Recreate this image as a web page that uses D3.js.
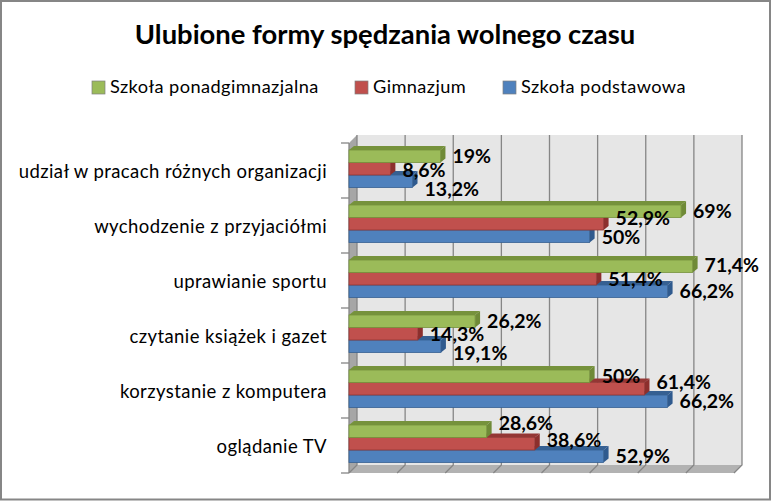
<!DOCTYPE html>
<html>
<head>
<meta charset="utf-8">
<script src="https://cdn.jsdelivr.net/npm/d3@7"></script>
<style>
  html, body { margin: 0; background: #fff; }
  svg { display: block; }
  text { font-family: Lato, "Open Sans", sans-serif; fill: #000; }
</style>
</head>
<body>
<svg id="chart" width="771" height="501"></svg>
<script>
"use strict";

// ==========================
// data
// ==========================
var categories = [
  "udział w pracach różnych organizacji",
  "wychodzenie z przyjaciółmi",
  "uprawianie sportu",
  "czytanie książek i gazet",
  "korzystanie z komputera",
  "oglądanie TV"
];
var seriesNames = ["Szkoła ponadgimnazjalna", "Gimnazjum", "Szkoła podstawowa"];
var ponadgimnazjalna = [19, 69, 71.4, 26.2, 50, 28.6];
var gimnazjum = [8.6, 52.9, 51.4, 14.3, 61.4, 38.6];
var podstawowa = [13.2, 50, 66.2, 19.1, 66.2, 52.9];
var xTicks = [0, 10, 20, 30, 40, 50, 60, 70, 80];

// ==========================
// layout and styles
// ==========================
var frontColors = ["#9bbb59", "#c0504d", "#4f81bd"],
    topColors = ["#76923c", "#943634", "#366092"],
    sideColors = ["#6f8a37", "#8c2f2d", "#2f5a8e"];

var depth = 8, barDepth = 5;

// the labels do not sit on the bars, each one was moved by hand in the original
var labelNudge = [
  [0, 1, 8], [0, -6, 1], [-1, 0, 0],
  [0, 0, 7], [0, -7, 0], [-8, -4, 0]
];

var svg = d3.select("#chart");

var x = d3.scaleLinear().domain([0, 80]).range([349, 734]),
    y = d3.scaleBand().domain(categories).range([143, 473]),
    color = d3.scaleOrdinal().domain(seriesNames).range(frontColors),
    inner = d3.scaleBand().domain(seriesNames).range([7, 44.5]);

var values = [ponadgimnazjalna, gimnazjum, podstawowa];

// outer frame
svg.append("rect")
  .attr("x", 1)
  .attr("y", 1)
  .attr("width", 769)
  .attr("height", 498.5)
  .attr("fill", "none")
  .attr("stroke", "#868686")
  .attr("stroke-width", 2);

// ==========================
// title and legend
// ==========================
svg.append("text")
  .attr("x", 385)
  .attr("y", 44)
  .attr("text-anchor", "middle")
  .attr("font-size", 27.4)
  .attr("font-weight", 700)
  .text("Ulubione formy spędzania wolnego czasu");

var legendX = [92, 355, 503];
var legend = svg.selectAll(".legend").data(seriesNames).enter().append("g")
  .attr("class", "legend")
  .attr("transform", function (d, i) { return "translate(" + legendX[i] + ",81)"; });

legend.append("rect")
  .attr("width", 13)
  .attr("height", 13)
  .attr("fill", function (d) { return color(d); })
  .attr("stroke", "#7f7f7f")
  .attr("stroke-width", 0.7);

legend.append("text")
  .attr("x", 18)
  .attr("y", 12)
  .attr("font-size", 18.2)
  .attr("letter-spacing", 0.42)
  .text(function (d) { return d; });

// ==========================
// walls
// ==========================
var x0 = x.range()[0], x1 = x.range()[1],
    y0 = y.range()[0], y1 = y.range()[1];

svg.append("rect")
  .attr("x", x0 + depth)
  .attr("y", y0 - depth)
  .attr("width", x1 - x0)
  .attr("height", y1 - y0)
  .attr("fill", "#e6e6e6");

svg.append("polygon")
  .attr("points", [[x0, y0], [x0 + depth, y0 - depth], [x0 + depth, y1 - depth], [x0, y1]].join(" "))
  .attr("fill", "#a6a6a6");

svg.append("polygon")
  .attr("points", [[x0, y1], [x0 + depth, y1 - depth], [x1 + depth, y1 - depth], [x1, y1]].join(" "))
  .attr("fill", "#b2b2b2");

// gridlines, they run over the wall and turn along the floor
svg.append("g").selectAll("path").data(xTicks).enter().append("path")
  .attr("d", function (d) {
    return "M" + (x(d) + depth) + "," + (y0 - depth) + "V" + (y1 - depth) + "L" + x(d) + "," + y1;
  })
  .attr("fill", "none")
  .attr("stroke", "#868686")
  .attr("stroke-width", 1.3);

// ==========================
// category axis
// ==========================
var axis = svg.append("g")
  .attr("transform", "translate(" + (x0 - 19) + ",2)")
  .call(d3.axisLeft(y).tickSize(0));
axis.select(".domain").remove();
axis.selectAll("text")
  .attr("font-size", 18.5)
  .attr("letter-spacing", 0.42)
  .attr("font-family", "Lato")
  .attr("dy", "0.32em")
  .attr("fill", "#000");

var boundaries = categories.map(function (d) { return y(d); }).concat([y1]);
svg.append("g").selectAll("line").data(boundaries).enter().append("line")
  .attr("x1", x0 - 8)
  .attr("x2", x0)
  .attr("y1", function (d) { return d; })
  .attr("y2", function (d) { return d; })
  .attr("stroke", "#868686")
  .attr("stroke-width", 1.3);

svg.append("line")
  .attr("x1", x0)
  .attr("x2", x0)
  .attr("y1", y0)
  .attr("y2", y1)
  .attr("stroke", "#868686")
  .attr("stroke-width", 1.3);

// ==========================
// bars, the lowest series goes first
// ==========================
var rows = [];
[2, 1, 0].forEach(function (s) {
  categories.forEach(function (c, i) {
    rows.push({ s: s, category: c, name: seriesNames[s], value: values[s][i], row: i });
  });
});

var bars = svg.append("g").selectAll("g").data(rows).enter().append("g");

function barTop(d) { return y(d.category) + inner(d.name); }

bars.append("polygon")
  .attr("points", function (d) {
    var t = barTop(d), r = x(d.value);
    return [[x0, t], [x0 + barDepth, t - 4], [r + barDepth, t - 4], [r, t]].join(" ");
  })
  .attr("fill", function (d) { return topColors[d.s]; });

bars.append("polygon")
  .attr("points", function (d) {
    var t = barTop(d), r = x(d.value), h = inner.bandwidth();
    return [[r, t], [r + barDepth, t - 4], [r + barDepth, t + h - 4], [r, t + h]].join(" ");
  })
  .attr("fill", function (d) { return sideColors[d.s]; });

bars.append("rect")
  .attr("x", x0)
  .attr("y", barTop)
  .attr("width", function (d) { return x(d.value) - x0; })
  .attr("height", inner.bandwidth())
  .attr("fill", function (d) { return frontColors[d.s]; })
  .attr("stroke", function (d) { return topColors[d.s]; })
  .attr("stroke-width", 0.8);

// ==========================
// data labels
// ==========================
svg.append("g").selectAll("text").data(rows).enter().append("text")
  .attr("x", function (d) { return x(d.value) + barDepth + 7; })
  .attr("y", function (d) {
    return barTop(d) + inner.bandwidth() / 2 + labelNudge[d.row][d.s];
  })
  .attr("dy", "0.35em")
  .attr("font-size", 19.5)
  .attr("font-weight", 700)
  .text(function (d) { return String(d.value).replace(".", ",") + "%"; });
</script>
</body>
</html>
